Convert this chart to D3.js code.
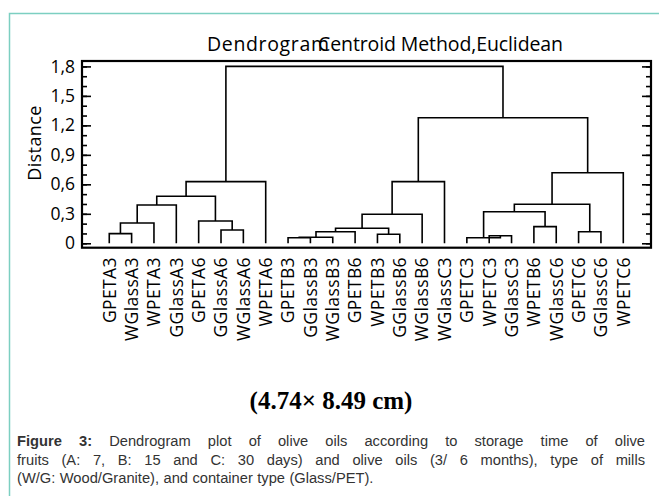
<!DOCTYPE html>
<html>
<head>
<meta charset="utf-8">
<script src="https://cdn.jsdelivr.net/npm/d3@7"></script>
<style>
  body { margin: 0; background: #fff; }
  svg { display: block; }
</style>
</head>
<body>
<svg id="chart" width="659" height="496"></svg>
<script>
// leaves in dendrogram order
var leafLabels = ["GPETA3","WGlassA3","WPETA3","GGlassA3","GPETA6","GGlassA6","WGlassA6","WPETA6",
  "GPETB3","GGlassB3","WGlassB3","GPETB6","WPETB3","GGlassB6","WGlassB6","WGlassC3",
  "GPETC3","WPETC3","GGlassC3","WPETB6","WGlassC6","GPETC6","GGlassC6","WPETC6"];

// merge k makes node 24+k (linkage style)
var mergeLeft  = [0, 24, 25, 5, 4, 26, 29, 8, 31, 32, 12, 33, 35, 36, 17, 16, 19, 39, 21, 41, 43, 37, 30];
var mergeRight = [1, 2, 3, 6, 27, 28, 7, 9, 10, 11, 13, 34, 14, 15, 18, 38, 20, 40, 22, 42, 23, 44, 45];
var mergeDist  = [0.098, 0.207, 0.39, 0.135, 0.227, 0.478, 0.627, 0.056, 0.062, 0.118, 0.092, 0.153,
  0.295, 0.627, 0.077, 0.057, 0.169, 0.321, 0.118, 0.397, 0.718, 1.278, 1.80];

var majorTicks = [0, 0.3, 0.6, 0.9, 1.2, 1.5, 1.8];
var tickLabels = ["0", "0,3", "0,6", "0,9", "1,2", "1,5", "1,8"];
var minorTicks = d3.range(0, 19).map(function(i){ return i / 10; });

var captionLines = [
  "Figure 3: Dendrogram plot of olive oils according to storage time of olive",
  "fruits (A: 7, B: 15 and C: 30 days) and olive oils (3/ 6 months), type of mills",
  "(W/G: Wood/Granite), and container type (Glass/PET)."
];

var svg = d3.select('#chart');
var chartFont = "'Open Sans', 'DejaVu Sans', sans-serif";

// teal frame (top + left edge only visible)
svg.append('path')
  .attr('d', 'M9.5,496 V13.5 H659')
  .attr('fill', 'none')
  .attr('stroke', '#7ccfc1')
  .attr('stroke-width', 1.5);

var box = {left: 82, right: 651, top: 61, bottom: 247.7};

var x = d3.scaleLinear().domain([-1.22, 24.24]).range([box.left, box.right]);
var y = d3.scaleLinear().domain([-0.045, 1.855]).range([box.bottom, box.top]);

// node positions
var nodeX = leafLabels.map(function(d, i){ return x(i); });
var nodeH = leafLabels.map(function(){ return 0; });
var links = [];
mergeLeft.forEach(function(a, k){
  var b = mergeRight[k], h = mergeDist[k];
  links.push({x1: nodeX[a], h1: nodeH[a], x2: nodeX[b], h2: nodeH[b], h: h});
  nodeX.push((nodeX[a] + nodeX[b]) / 2);
  nodeH.push(h);
});

svg.append('g').selectAll('path')
  .data(links)
  .enter()
  .append('path')
  .attr('d', function(d){
    return 'M' + d.x1 + ',' + y(d.h1) + 'V' + y(d.h) + 'H' + d.x2 + 'V' + y(d.h2);
  })
  .attr('fill', 'none')
  .attr('stroke', '#000')
  .attr('stroke-width', 1.6);

// axes, ticks pointing inward
function styleAxis(g){
  g.select('.domain').remove();
  g.selectAll('line').attr('stroke', '#000').attr('stroke-width', 1.6);
  g.selectAll('text').attr('font-family', chartFont).attr('font-size', 17.5).attr('fill', '#000');
}
svg.append('g').attr('transform', 'translate(' + box.left + ',0)')
  .call(d3.axisLeft(y).tickValues(minorTicks).tickSize(-5).tickFormat(''))
  .call(styleAxis);
svg.append('g').attr('transform', 'translate(' + box.left + ',0)')
  .call(d3.axisLeft(y).tickValues(majorTicks).tickSize(-9).tickPadding(7)
    .tickFormat(function(d, i){ return tickLabels[i]; }))
  .call(styleAxis);
svg.append('g').attr('transform', 'translate(' + box.right + ',0)')
  .call(d3.axisRight(y).tickValues(minorTicks).tickSize(-5).tickFormat(''))
  .call(styleAxis);
svg.append('g').attr('transform', 'translate(' + box.right + ',0)')
  .call(d3.axisRight(y).tickValues(majorTicks).tickSize(-9).tickFormat(''))
  .call(styleAxis);

svg.append('rect')
  .attr('x', box.left).attr('y', box.top)
  .attr('width', box.right - box.left).attr('height', box.bottom - box.top)
  .attr('fill', 'none').attr('stroke', '#000').attr('stroke-width', 2.2);

// leaf labels
svg.append('g').selectAll('text')
  .data(leafLabels)
  .enter()
  .append('text')
  .attr('transform', function(d, i){ return 'translate(' + x(i) + ',257) rotate(-90)'; })
  .attr('dy', '0.36em')
  .attr('text-anchor', 'end')
  .attr('font-family', chartFont)
  .attr('font-size', 17.5)
  .attr('letter-spacing', 0.4)
  .text(function(d){ return d; });

// y title
svg.append('text')
  .attr('transform', 'translate(41,143) rotate(-90)')
  .attr('text-anchor', 'middle')
  .attr('font-family', chartFont)
  .attr('font-size', 18)
  .attr('letter-spacing', 0.4)
  .text('Distance');

// chart title (two overlapping pieces, as in the original)
svg.append('text')
  .attr('x', 207).attr('y', 51)
  .attr('font-family', chartFont).attr('font-size', 19.5)
  .attr('textLength', 122)
  .text('Dendrogram');
svg.append('text')
  .attr('x', 318).attr('y', 51)
  .attr('font-family', chartFont).attr('font-size', 19.5)
  .attr('textLength', 245)
  .text('Centroid Method,Euclidean');

// size note
svg.append('text')
  .attr('x', 331).attr('y', 409)
  .attr('text-anchor', 'middle')
  .attr('font-family', "'Liberation Serif', 'Times New Roman', serif")
  .attr('font-weight', 'bold')
  .attr('font-size', 25)
  .text('(4.74\u00d7 8.49 cm)');

// caption, justified like the source page
var capLeft = 17, capRight = 645, capY = [446, 464.5, 483];
captionLines.forEach(function(line, li){
  var words = line.split(' ');
  var g = svg.append('g');
  var els = words.map(function(w, wi){
    return g.append('text')
      .attr('y', capY[li])
      .attr('font-family', "'Liberation Sans', Arial, sans-serif")
      .attr('font-size', 14.7)
      .attr('fill', '#333')
      .attr('font-weight', (li === 0 && wi < 2) ? 'bold' : 'normal')
      .text(w);
  });
  var widths = els.map(function(t){ return t.node().getComputedTextLength(); });
  var total = d3.sum(widths);
  var gap = (li < captionLines.length - 1) ? (capRight - capLeft - total) / (words.length - 1) : 4.4;
  var cx = capLeft;
  els.forEach(function(t, i){
    t.attr('x', cx);
    cx += widths[i] + gap;
  });
});
</script>
</body>
</html>
